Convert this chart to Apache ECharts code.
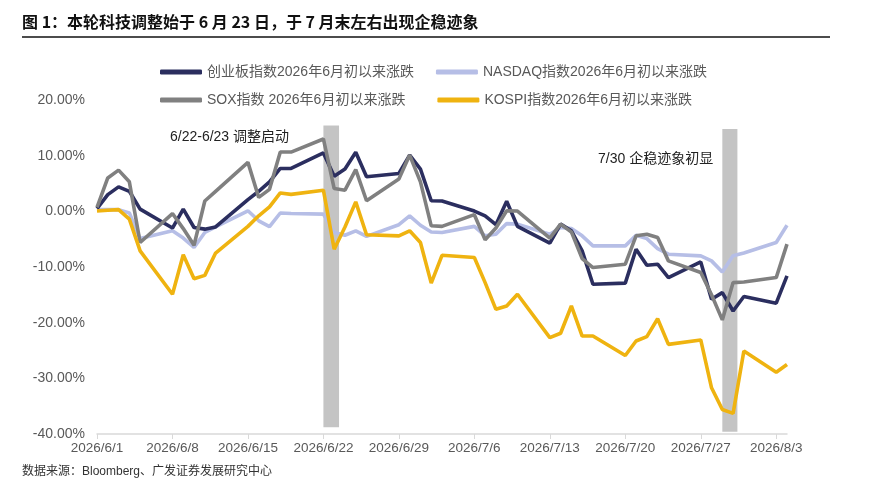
<!DOCTYPE html>
<html>
<head>
<meta charset="utf-8">
<script src="https://cdn.jsdelivr.net/npm/echarts@6/dist/echarts.min.js"></script>
<style>
  html, body { margin: 0; padding: 0; background: #fff; }
  #chart { width: 875px; height: 494px; }
</style>
</head>
<body>
<div id="chart"></div>
<script>
// 交易日
var dates = [
  '2026-06-01', '2026-06-02', '2026-06-03', '2026-06-04', '2026-06-05',
  '2026-06-08', '2026-06-09', '2026-06-10', '2026-06-11', '2026-06-12',
  '2026-06-15', '2026-06-16', '2026-06-17', '2026-06-18', '2026-06-19',
  '2026-06-22', '2026-06-23', '2026-06-24', '2026-06-25', '2026-06-26',
  '2026-06-29', '2026-06-30', '2026-07-01', '2026-07-02', '2026-07-03',
  '2026-07-06', '2026-07-07', '2026-07-08', '2026-07-09', '2026-07-10',
  '2026-07-13', '2026-07-14', '2026-07-15', '2026-07-16', '2026-07-17',
  '2026-07-20', '2026-07-21', '2026-07-22', '2026-07-23', '2026-07-24',
  '2026-07-27', '2026-07-28', '2026-07-29', '2026-07-30', '2026-07-31',
  '2026-08-03', '2026-08-04'
];

// 各指数 2026年6月初以来涨跌 (%)
var chinext = [
  0.5, 3.0, 4.4, 3.6, 0.4,
  -3.0, 0.4, -2.9, -3.2, -2.8,
  2.1, 3.6, 5.3, 7.7, 7.7,
  10.5, 6.3, 7.6, 10.6, 6.2,
  6.8, 10.1, 7.6, 1.9, 1.85,
  0.05, -0.8, -2.4, 1.8, -2.7,
  -5.7, -2.3, -3.5, -7.1, -13.1,
  -12.9, -6.8, -9.7, -9.5, -11.9,
  -9.1, -15.8, -14.6, -17.9, -15.3,
  -16.5, -11.6
];
var nasdaq = [
  0.3, 0.3, 0.3, -0.3, -4.9,
  -3.5, -4.8, -6.5, -3.8, -2.8,
  0.1, -1.7, -2.75, -0.3, -0.4,
  -0.5, -3.8, -4.3, -3.5, -4.5,
  -2.4, -0.8, -2.5, -3.7, -3.8,
  -2.7, -4.4, -4.1, -2.2, -2.3,
  -4.1, -2.9, -3.1, -4.4, -6.2,
  -6.2, -4.3, -4.9, -6.7, -7.7,
  -8.0, -8.9, -10.9, -8.0, -7.5,
  -5.6, -2.5
];
var sox = [
  0.7, 6.0, 7.4, 5.3, -5.6,
  -0.4, -3.1, -6.1, 1.85, 3.6,
  8.8, 2.5, 3.95, 10.65, 10.65,
  13.0, 4.1, 3.8, 7.5, 1.9,
  5.8, 10.1, 5.3, -2.6, -2.7,
  -0.6, -5.1, -3.0, 0.1, 0.05,
  -4.8, -2.3, -3.7, -8.5, -10.1,
  -9.5, -4.4, -4.1, -4.7, -8.9,
  -11.0, -15.0, -19.5, -12.8, -12.7,
  -11.9, -5.9
];
var kospi = [
  0.05, 0.2, 0.3, -1.4, -7.1,
  -14.9, -7.8, -12.1, -11.5, -7.5,
  -2.7, -0.8, 0.8, 3.3, 3.05,
  3.8, -6.8, -2.8, 1.7, -4.2,
  -4.4, -3.5, -5.6, -12.9, -7.9,
  -8.3, -12.8, -17.6, -17.0, -14.9,
  -22.7, -21.9, -17.0, -22.4, -22.4,
  -25.9, -23.3, -22.5, -19.3, -23.9,
  -23.1, -31.7, -35.6, -36.3, -25.1,
  -28.9, -27.5
];

var seriesNames = [
  '创业板指数2026年6月初以来涨跌',
  'NASDAQ指数2026年6月初以来涨跌',
  'SOX指数 2026年6月初以来涨跌',
  'KOSPI指数2026年6月初以来涨跌'
];
var xTickLabels = ['2026/6/1', '2026/6/8', '2026/6/15', '2026/6/22', '2026/6/29',
  '2026/7/6', '2026/7/13', '2026/7/20', '2026/7/27', '2026/8/3'];

var baseDay = Date.UTC(2026, 5, 1);
function dayOf(s) {
  var p = s.split('-');
  return (Date.UTC(+p[0], +p[1] - 1, +p[2]) - baseDay) / 86400000;
}
function pairs(vals) {
  return dates.map(function (d, i) { return [dayOf(d), vals[i]]; });
}
var tickDays = xTickLabels.map(function (t, i) { return i * 7; });

var myChart = echarts.init(document.getElementById('chart'));
var font = '"Liberation Sans", Arial, "Noto Sans CJK SC", sans-serif';

function lineSeries(name, vals, color) {
  return {
    name: name,
    type: 'line',
    data: pairs(vals),
    showSymbol: false,
    symbol: 'none',
    lineStyle: { width: 3.6, color: color },
    itemStyle: { color: color }
  };
}

var option = {
  animation: false,
  textStyle: { fontFamily: font },
  grid: { left: 97, right: 88, top: 100, bottom: 60 },
  legend: [
    {
      data: [seriesNames[0], seriesNames[1]],
      left: 155, top: 60, itemWidth: 42, itemHeight: 5, itemGap: 22,
      icon: 'roundRect',
      textStyle: { fontSize: 14, color: '#595959', fontFamily: font }
    },
    {
      data: [seriesNames[2], seriesNames[3]],
      left: 155, top: 88, itemWidth: 42, itemHeight: 5, itemGap: 32,
      icon: 'roundRect',
      textStyle: { fontSize: 14, color: '#595959', fontFamily: font }
    }
  ],
  xAxis: {
    type: 'value',
    min: 0,
    max: 64,
    interval: 7,
    splitLine: { show: false },
    axisLine: { onZero: false, lineStyle: { color: '#d9d9d9', width: 1.5 } },
    axisTick: { show: true, length: 5, customValues: tickDays, lineStyle: { color: '#d9d9d9' } },
    axisLabel: {
      customValues: tickDays,
      fontSize: 13.5, color: '#595959', margin: 8,
      formatter: function (v) { return xTickLabels[Math.round(v / 7)] || ''; }
    }
  },
  yAxis: {
    type: 'value',
    min: -40, max: 20, interval: 10,
    splitLine: { show: false },
    axisLine: { show: false },
    axisTick: { show: false },
    axisLabel: {
      fontSize: 14, color: '#595959', margin: 12,
      formatter: function (v) { return v.toFixed(2) + '%'; }
    }
  },
  graphic: [
    { type: 'text', left: 22, top: 14, style: { text: '图 1：本轮科技调整始于 6 月 23 日，于 7 月末左右出现企稳迹象', font: 'bold 16px "Noto Sans CJK SC", sans-serif', fill: '#111' } },
    { type: 'line', shape: { x1: 22, y1: 37, x2: 830, y2: 37 }, style: { stroke: '#111', lineWidth: 1.5 } },
    { type: 'text', left: 170, top: 130, style: { text: '6/22-6/23 调整启动', font: '14px ' + font, fill: '#222' } },
    { type: 'text', left: 598, top: 152, style: { text: '7/30 企稳迹象初显', font: '14px ' + font, fill: '#222' } },
    { type: 'text', left: 22, top: 466, style: { text: '数据来源：Bloomberg、广发证券发展研究中心', font: '12px ' + font, fill: '#333' } }
  ],
  series: [
    lineSeries(seriesNames[1], nasdaq, '#b6bee6'),
    lineSeries(seriesNames[0], chinext, '#2b2e5f'),
    lineSeries(seriesNames[2], sox, '#808080'),
    lineSeries(seriesNames[3], kospi, '#efb310'),
    {
      name: 'shade',
      type: 'line',
      data: [],
      z: 5,
      silent: true,
      markArea: {
        silent: true,
        itemStyle: { color: 'rgba(0,0,0,0.23)' },
        data: [
          [{ xAxis: 21, yAxis: 15.4 }, { xAxis: 22.45, yAxis: -38.8 }],
          [{ xAxis: 58, yAxis: 14.8 }, { xAxis: 59.4, yAxis: -39.6 }]
        ]
      }
    }
  ]
};

myChart.setOption(option);
</script>
</body>
</html>
